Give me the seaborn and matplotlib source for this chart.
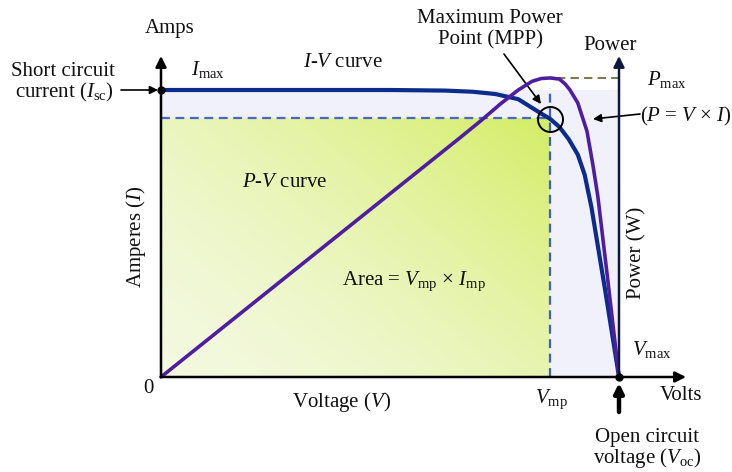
import numpy as np
import matplotlib
matplotlib.use("Agg")
import matplotlib.pyplot as plt
import seaborn as sns
import pandas as pd

# ---------------- data (normalised units: Isc = 1, Voc = 1) ----------------
iv_voltage = [0, 0.25, 0.5, 0.62, 0.68, 0.73, 0.78, 0.83, 0.85, 0.87, 0.89,
              0.91, 0.925, 0.94, 0.97, 1.0]
iv_current = [1.0, 1.0, 1.0, 0.998, 0.994, 0.986, 0.968, 0.918, 0.899, 0.871,
              0.829, 0.775, 0.705, 0.59, 0.30, 0.0]
pv_voltage = [0, 0.35, 0.65, 0.70, 0.74, 0.78, 0.81, 0.83, 0.85, 0.87, 0.883,
              0.893, 0.91, 0.93, 0.943, 0.954, 0.975, 1.0]
pv_power = [0, 0.447, 0.830, 0.895, 0.950, 1.000, 1.030, 1.040, 1.042, 1.038,
            1.020, 1.0, 0.955, 0.857, 0.739, 0.627, 0.345, 0.0]
isc = 1.0
voc = 1.0
imp = 0.902
vmp = 0.849
pmax = 1.042
pmax_v = 0.865

iv_df = pd.DataFrame({"V": iv_voltage, "I": iv_current})
pv_df = pd.DataFrame({"V": pv_voltage, "P": pv_power})

# ---------------- style ----------------
sns.set_theme(style="white")
plt.rcParams["font.family"] = ["Liberation Serif", "DejaVu Serif"]
plt.rcParams["mathtext.fontset"] = "custom"
plt.rcParams["mathtext.rm"] = "Liberation Serif"
plt.rcParams["mathtext.it"] = "Liberation Serif:italic"
plt.rcParams["mathtext.bf"] = "Liberation Serif:bold"

W, H = 732, 472
fig = plt.figure(figsize=(W / 100, H / 100), dpi=100)
ax = fig.add_axes([0, 0, 1, 1])
ax.set_axis_off()

# pixel layout of the data frame
X0, X1 = 161, 619     # V=0 .. V=Voc
Y0, Y1 = 377, 90      # I=0 .. I=Isc
sx = (X1 - X0) / voc
sy = (Y0 - Y1) / isc
ax.set_xlim(-X0 / sx, (W - X0) / sx)
ax.set_ylim((Y0 - H) / sy, Y0 / sy)


def dx(px):
    return (px - X0) / sx


def dy(py):
    return (Y0 - py) / sy


def fp(px, py):
    return (px / W, 1 - py / H)


# ---------------- background fills ----------------
ax.fill_between([0, voc], 0, isc, color="#f0f1fa", lw=0, zorder=0)

n = 240
u = np.linspace(0, 1, n)[None, :]
v = np.linspace(0, 1, n)[:, None]
t = np.clip(0.55 * u + 0.45 * v, 0, 1) ** 1.6
light = np.array([0.955, 0.975, 0.875])
strong = np.array([0.83, 0.93, 0.40])
img = light[None, None, :] * (1 - t[..., None]) + strong[None, None, :] * t[..., None]
ax.imshow(img, extent=(0, vmp, 0, imp), origin="lower", aspect="auto", zorder=1)

# ---------------- dashed guide lines ----------------
ax.plot([0, vmp], [imp, imp], ls=(0, (4, 2.5)), color="#4a66c8", lw=1.6, zorder=2)
ax.plot([vmp, vmp], [0, dy(88)], ls=(0, (4, 2.5)), color="#3f5fc8", lw=1.6, zorder=2)
ax.plot([pmax_v, voc], [pmax, pmax], ls=(0, (4, 2.5)), color="#7a7a58", lw=1.5, zorder=2)

# ---------------- curves ----------------
sns.lineplot(data=iv_df, x="V", y="I", ax=ax, color="#0c2c8c", lw=3.0,
             sort=False, zorder=4, legend=False)
sns.lineplot(data=pv_df, x="V", y="P", ax=ax, color="#4f1ea0", lw=2.6,
             sort=False, zorder=5, legend=False)

# ---------------- axes drawn as arrows ----------------
arr = dict(arrowstyle="-|>", color="black", lw=1.8, mutation_scale=16,
           shrinkA=0, shrinkB=0)
ax.annotate("", xy=(0, dy(56)), xytext=(0, 0), arrowprops=arr, zorder=6)
ax.annotate("", xy=(voc, dy(56)), xytext=(voc, 0),
            arrowprops=dict(arr, color="#101840"), zorder=6)
ax.annotate("", xy=(dx(686), 0), xytext=(0, 0), arrowprops=arr, zorder=6)
ax.plot([0, voc], [isc, 0], "o", color="black", ms=5, zorder=7)

# MPP circle
ax.plot([vmp], [dy(119)], "o", ms=18, mfc="none", mec="black", mew=1.4, zorder=7)

# ---------------- annotation arrows ----------------
thin = dict(arrowstyle="-|>", color="black", lw=1.2, mutation_scale=12,
            shrinkA=0, shrinkB=0)
ax.annotate("", xy=(dx(158), isc), xytext=(dx(121), isc), arrowprops=thin)
ax.annotate("", xy=(dx(541), dy(104)), xytext=(dx(504), dy(54)), arrowprops=thin)
ax.annotate("", xy=(dx(593), dy(119)), xytext=(dx(640), dy(114)), arrowprops=thin)
ax.annotate("", xy=(voc, dy(383)), xytext=(voc, dy(412)),
            arrowprops=dict(arrowstyle="-|>", color="black", lw=3.2,
                            mutation_scale=14, shrinkA=0, shrinkB=0))

# ---------------- texts ----------------
fs = 15
T = dict(transform=ax.transAxes, fontsize=fs, color="#111111", va="baseline")
ax.text(*fp(170, 33), "Amps", ha="center", **T)
ax.text(*fp(63, 76), "Short circuit", ha="center", **T)
ax.text(*fp(64, 97), r"current ($I_{\rm sc}$)", ha="center", **T)
ax.text(*fp(191, 75), r"$I_{\rm max}$", ha="left", **T)
ax.text(*fp(303, 67), r"$I$-$V$ curve", ha="left", **T)
ax.text(*fp(490, 23), "Maximum Power", ha="center", **T)
ax.text(*fp(490, 44), "Point (MPP)", ha="center", **T)
ax.text(*fp(610, 50), "Power", ha="center", **T)
ax.text(*fp(647, 85), r"$P_{\rm max}$", ha="left", **T)
ax.text(*fp(640, 121), r"($P$ = $V$ × $I$)", ha="left", **T)
ax.text(*fp(242, 187), r"$P$-$V$ curve", ha="left", **T)
ax.text(*fp(342, 285), r"Area = $V_{\rm mp}$ × $I_{\rm mp}$", ha="left", **T)
ax.text(*fp(148, 393), "0", ha="center", **T)
ax.text(*fp(342, 407), r"Voltage ($V$)", ha="center", **T)
ax.text(*fp(535, 403), r"$V_{\rm mp}$", ha="left", **T)
ax.text(*fp(660, 400), "Volts", ha="left", **T)
ax.text(*fp(632, 355), r"$V_{\rm max}$", ha="left", **T)
ax.text(*fp(647, 442), "Open circuit", ha="center", **T)
ax.text(*fp(647, 463), r"voltage ($V_{\rm oc}$)", ha="center", **T)

R = dict(transform=ax.transAxes, fontsize=fs, color="#111111",
         rotation=90, ha="center", va="center")
ax.text(*fp(136, 237), r"Amperes ($I$)", **R)
ax.text(*fp(637, 253), "Power (W)", **R)

fig.savefig("out.png", dpi=100)
